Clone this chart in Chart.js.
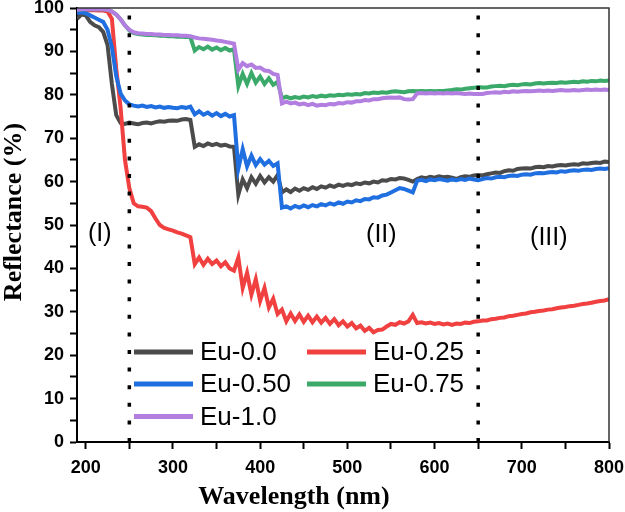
<!DOCTYPE html>
<html>
<head>
<meta charset="utf-8">
<script src="https://cdn.jsdelivr.net/npm/chart.js@4.4.1/dist/chart.umd.min.js"></script>
<style>
  html, body { margin: 0; padding: 0; background: #fff; }
  canvas { display: block; }
</style>
</head>
<body>
<canvas id="chart" width="625" height="512"></canvas>
<script>
// wavelength grid (nm)
const wavelengths = [
  190, 195, 200, 205, 210, 215, 220, 225, 230, 235,
  240, 245, 250, 255, 260, 265, 270, 275, 280, 285,
  290, 295, 300, 305, 310, 315, 320, 325, 330, 335,
  340, 345, 350, 355, 360, 365, 370, 375, 380, 385,
  390, 395, 400, 405, 410, 415, 420, 425, 430, 435,
  440, 445, 450, 455, 460, 465, 470, 475, 480, 485,
  490, 495, 500, 505, 510, 515, 520, 525, 530, 535,
  540, 545, 550, 555, 560, 565, 570, 575, 580, 585,
  590, 595, 600, 605, 610, 615, 620, 625, 630, 635,
  640, 645, 650, 655, 660, 665, 670, 675, 680, 685,
  690, 695, 700, 705, 710, 715, 720, 725, 730, 735,
  740, 745, 750, 755, 760, 765, 770, 775, 780, 785,
  790, 795, 800
];

// reflectance (%)
const eu00 = [
  97.5, 98.5, 98.3, 96.8, 96.0, 95.6, 94.5, 91.5, 82.5, 75.3,
  73.5, 73.3, 73.6, 73.4, 73.2, 73.5, 73.6, 73.4, 73.7, 73.9,
  73.8, 74.0, 74.1, 74.0, 74.3, 74.4, 74.2, 68.0, 68.6, 68.2,
  68.8, 68.4, 68.7, 68.3, 68.5, 68.1, 68.0, 57.0, 60.5, 58.5,
  61.0, 59.5, 61.3, 59.8, 61.0, 60.0, 61.5, 57.5, 58.2, 57.6,
  58.4, 57.9, 58.5, 58.1, 58.7, 58.3, 58.9, 58.6, 59.1, 58.8,
  59.3, 59.0, 59.4, 59.2, 59.6, 59.4, 59.8, 59.6, 60.0, 59.8,
  60.3, 60.2, 60.6, 60.5, 60.8, 60.7, 60.4, 60.0, 60.6, 61.0,
  60.8, 61.1, 60.9, 61.2, 61.0, 61.1, 60.9, 60.6, 61.0, 61.2,
  61.1, 61.4, 61.5, 61.4, 61.7, 61.9, 62.1, 62.0, 62.4, 62.6,
  62.5, 62.9, 63.0, 63.1, 63.0, 63.3, 63.4, 63.3, 63.6, 63.5,
  63.7, 63.8, 63.7, 63.9, 64.0, 63.9, 64.2, 64.1, 64.3, 64.4,
  64.3, 64.6, 64.5
];
const eu025 = [
  99.0, 99.3, 99.4, 99.5, 99.5, 99.4, 99.4, 99.2, 97.5, 86.0,
  77.0, 65.0, 58.5, 55.0, 54.3, 54.2, 54.0, 53.2, 51.5, 50.0,
  49.3, 49.0, 48.7, 48.3, 48.0, 47.6, 47.2, 41.0, 42.5, 40.8,
  42.2, 41.0, 41.8, 40.5, 41.4, 40.0, 39.5, 42.5, 35.5, 39.0,
  34.0, 37.5, 32.5, 35.5, 31.0, 33.0, 29.5, 30.5, 27.8, 29.6,
  27.9, 29.4, 27.7, 29.1, 27.6, 28.9, 27.5, 28.6, 27.2, 28.3,
  26.9, 27.8, 26.6, 27.4, 26.2, 26.8, 25.6, 26.3, 25.3, 25.8,
  25.9, 26.6, 27.2, 27.0, 27.6, 27.3, 27.8, 29.3, 27.4, 27.6,
  27.3, 27.5, 27.2, 27.4, 27.1, 27.3, 27.0, 27.3, 27.2, 27.5,
  27.4, 27.7, 27.8, 28.0, 28.0, 28.3, 28.4, 28.6, 28.7, 29.0,
  29.1, 29.3, 29.5, 29.6, 29.9, 30.0, 30.2, 30.3, 30.5, 30.6,
  30.8, 31.0, 31.1, 31.3, 31.4, 31.6, 31.8, 31.9, 32.1, 32.3,
  32.5, 32.6, 32.9
];
const eu050 = [
  98.8, 99.0, 98.8, 98.3, 97.8, 97.3, 96.8, 95.0, 91.0, 84.3,
  80.3, 78.7, 77.8, 77.5, 77.3, 77.5, 77.2, 77.4, 77.1, 77.3,
  77.0, 77.2, 77.0, 76.9, 77.2, 77.0, 77.3, 75.5, 76.2, 75.4,
  75.9, 75.2, 75.8, 75.1, 75.6, 75.0, 75.3, 63.0, 67.5, 63.5,
  66.0, 63.8, 65.2, 63.9, 64.8, 63.6, 64.2, 54.0, 54.3, 53.8,
  54.4, 54.0, 54.5, 54.1, 54.6, 54.3, 54.8, 54.5, 55.0, 54.7,
  55.2, 54.9, 55.4, 55.2, 55.7, 55.5, 56.0, 55.9, 56.4, 56.3,
  56.8, 57.0, 57.5, 58.0, 58.5, 58.3, 57.9, 57.5, 60.2, 60.4,
  60.1, 60.5, 60.3, 60.6, 60.4, 60.2, 60.5, 60.3, 60.6, 60.4,
  60.7, 60.5, 60.3, 60.6, 60.8, 60.7, 61.0, 61.1, 61.0, 61.3,
  61.4, 61.3, 61.6, 61.7, 61.6, 61.9, 62.0, 61.9, 62.1, 62.2,
  62.1, 62.4, 62.3, 62.5, 62.6, 62.5, 62.7, 62.8, 62.7, 62.9,
  63.0, 62.9, 63.1
];
const eu075 = [
  99.6, 99.7, 99.7, 99.7, 99.7, 99.7, 99.7, 99.6, 99.2, 98.5,
  97.4, 96.0, 94.8, 94.2, 94.0, 93.9, 93.8, 93.8, 93.7, 93.6,
  93.6, 93.5, 93.5, 93.4, 93.4, 93.3, 93.3, 90.2, 91.0, 90.5,
  91.1, 90.4, 90.9, 90.3, 90.8, 90.2, 90.5, 82.0, 84.8, 82.5,
  85.0, 82.8, 84.2, 82.5, 83.8, 82.3, 83.0, 79.2, 79.6, 79.2,
  79.5, 79.3, 79.6, 79.4, 79.7, 79.5, 79.8, 79.6, 79.9, 79.8,
  80.0, 79.9, 80.1, 80.0, 80.2, 80.1, 80.4, 80.3, 80.5, 80.4,
  80.6, 80.5, 80.7, 80.8, 80.7, 80.6, 80.8, 80.9, 80.8, 80.9,
  80.8, 80.9, 80.8, 80.9, 80.9, 81.0, 81.1, 81.3, 81.2, 81.4,
  81.5, 81.6, 81.8, 81.7, 81.7, 81.9, 82.0, 82.1, 82.0, 82.2,
  82.3, 82.2, 82.4, 82.5, 82.4, 82.6, 82.7, 82.6, 82.7, 82.8,
  82.7, 82.9, 82.8, 82.9, 83.0, 82.9, 83.1, 83.0, 83.2, 83.1,
  83.3, 83.2, 83.3
];
const eu10 = [
  99.6, 99.7, 99.7, 99.7, 99.7, 99.7, 99.7, 99.6, 99.2, 98.5,
  97.4, 96.0, 95.0, 94.4, 94.2, 94.1, 94.0, 94.0, 93.9, 93.9,
  93.8, 93.8, 93.7, 93.7, 93.6, 93.6, 93.5, 93.2, 93.0, 92.9,
  92.8, 92.7, 92.5, 92.4, 92.2, 92.0, 91.8, 85.8, 87.3, 86.6,
  87.0, 86.2, 86.3, 85.6, 85.5, 84.8, 84.6, 78.0, 78.4, 78.0,
  78.2, 77.8, 78.0, 77.6, 77.9, 77.5, 77.7, 77.6, 77.9, 77.8,
  78.1, 78.0, 78.3, 78.2, 78.5, 78.5, 78.8, 78.7, 79.0, 79.0,
  79.2, 79.3, 79.4, 79.3, 79.4, 79.0, 78.9, 79.0, 80.3, 80.4,
  80.3, 80.4, 80.3, 80.4, 80.3, 80.4, 80.3, 80.4, 80.3, 80.2,
  80.3, 80.2, 80.2, 80.2, 80.4, 80.5, 80.6, 80.5, 80.7, 80.6,
  80.8, 80.7, 80.8, 80.9, 80.8, 80.9, 81.0, 80.9, 81.0, 80.9,
  81.0, 81.1, 81.0, 81.0, 81.1, 81.0, 81.1, 81.2, 81.1, 81.2,
  81.1, 81.2, 81.1
];

const seriesLabels = ['Eu-0.0', 'Eu-0.25', 'Eu-0.50', 'Eu-0.75', 'Eu-1.0'];
const seriesValues = [eu00, eu025, eu050, eu075, eu10];
const seriesColors = ['#4b4b4b', '#f04040', '#1f6fe0', '#3aa96a', '#b27ee0'];

const regionBounds = [250, 650];
const regionLabels = ['(I)', '(II)', '(III)'];

const xTicks = [200, 250, 300, 350, 400, 450, 500, 550, 600, 650, 700, 750, 800];
const yTicks = [0, 5, 10, 15, 20, 25, 30, 35, 40, 45, 50, 55, 60, 65, 70, 75, 80, 85, 90, 95, 100];

const toPoints = ys => ys.map((y, i) => ({ x: wavelengths[i], y }));

const datasets = seriesValues.map((vals, i) => ({
  label: seriesLabels[i],
  data: toPoints(vals),
  borderColor: seriesColors[i],
  borderWidth: 4,
  pointRadius: 0,
  tension: 0,
  order: seriesValues.length - 1 - i
}));

// dotted region boundaries
regionBounds.forEach(b => {
  datasets.push({
    label: '',
    data: [{ x: b, y: 0 }, { x: b, y: 100 }],
    borderColor: '#000',
    borderWidth: 3.5,
    borderDash: [4, 13.6],
    pointRadius: 0,
    order: -1
  });
});

const sans = "'Liberation Sans', Arial, sans-serif";
const serif = "'Liberation Serif', 'Times New Roman', serif";

const decor = {
  id: 'decor',
  afterDraw(chart) {
    const { ctx, chartArea: a, scales: { x, y } } = chart;
    ctx.save();

    // top and right frame
    ctx.strokeStyle = '#333';
    ctx.lineWidth = 1.5;
    ctx.beginPath();
    ctx.moveTo(a.left, a.top);
    ctx.lineTo(a.right, a.top);
    ctx.lineTo(a.right, a.bottom);
    ctx.stroke();

    // region labels
    ctx.fillStyle = '#000';
    ctx.font = '25px ' + sans;
    ctx.textAlign = 'center';
    ctx.textBaseline = 'middle';
    const spots = [[216, 48], [539, 47.7], [731, 47]];
    spots.forEach(([wl, r], i) => {
      ctx.fillText(regionLabels[i], x.getPixelForValue(wl), y.getPixelForValue(r));
    });

    // legend, two columns
    const cols = [134, 307];
    const rows = [352, 384, 416.5];
    ctx.textAlign = 'left';
    ctx.font = '26px ' + sans;
    seriesLabels.forEach((lab, i) => {
      const lx = cols[i % 2];
      const ly = rows[Math.floor(i / 2)];
      ctx.strokeStyle = seriesColors[i];
      ctx.lineWidth = 5;
      ctx.beginPath();
      ctx.moveTo(lx, ly);
      ctx.lineTo(lx + 59, ly);
      ctx.stroke();
      ctx.fillStyle = '#000';
      ctx.fillText(lab, lx + 66, ly + 1);
    });

    // axis titles
    ctx.font = 'bold 26px ' + serif;
    ctx.textAlign = 'center';
    ctx.fillText('Wavelength (nm)', 294, 497);
    ctx.translate(14, 212);
    ctx.rotate(-Math.PI / 2);
    ctx.fillText('Reflectance (%)', 0, 0);

    ctx.restore();
  }
};

new Chart(document.getElementById('chart'), {
  type: 'line',
  data: { datasets },
  plugins: [decor],
  options: {
    responsive: false,
    animation: false,
    layout: { padding: { top: 8, right: 16, left: 0, bottom: 0 } },
    plugins: {
      legend: { display: false },
      tooltip: { enabled: false }
    },
    scales: {
      x: {
        type: 'linear',
        min: 190,
        max: 800,
        afterBuildTicks: s => { s.ticks = xTicks.map(v => ({ value: v })); },
        afterFit: s => { s.height = 70; s.paddingLeft = 0; s.paddingRight = 0; },
        ticks: {
          autoSkip: false,
          maxRotation: 0,
          padding: 8,
          color: '#000',
          font: { family: sans, size: 18, weight: 'bold' },
          callback: v => (v % 100 === 0 ? v : '')
        },
        grid: { drawOnChartArea: false, drawTicks: true, tickLength: 7, tickColor: '#000', tickWidth: 2 },
        border: { color: '#000', width: 2 }
      },
      y: {
        min: 0,
        max: 100,
        afterBuildTicks: s => { s.ticks = yTicks.map(v => ({ value: v })); },
        afterFit: s => { s.width = 77; s.paddingTop = 0; s.paddingBottom = 0; },
        ticks: {
          autoSkip: false,
          padding: 6,
          color: '#000',
          font: { family: sans, size: 18, weight: 'bold' },
          callback: v => (v % 10 === 0 ? v : '')
        },
        grid: { drawOnChartArea: false, drawTicks: true, tickLength: 7, tickColor: '#000', tickWidth: 2 },
        border: { color: '#000', width: 2 }
      }
    }
  }
});
</script>
</body>
</html>
